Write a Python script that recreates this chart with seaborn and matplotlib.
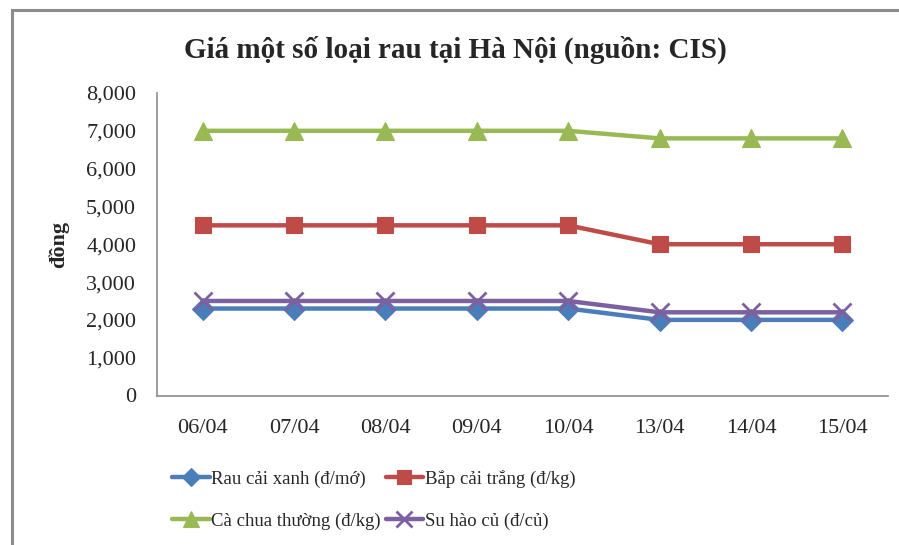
import matplotlib
matplotlib.use("Agg")
import matplotlib.pyplot as plt
from matplotlib.patches import Rectangle
import seaborn as sns
import pandas as pd

dates = ["06/04", "07/04", "08/04", "09/04", "10/04", "13/04", "14/04", "15/04"]
rau_cai_xanh = [2300, 2300, 2300, 2300, 2300, 2000, 2000, 2000]
bap_cai_trang = [4500, 4500, 4500, 4500, 4500, 4000, 4000, 4000]
ca_chua_thuong = [7000, 7000, 7000, 7000, 7000, 6800, 6800, 6800]
su_hao_cu = [2500, 2500, 2500, 2500, 2500, 2200, 2200, 2200]

series_names = ["Rau cải xanh (đ/mớ)", "Bắp cải trắng (đ/kg)",
                "Cà chua thường (đ/kg)", "Su hào củ (đ/củ)"]
series_values = [rau_cai_xanh, bap_cai_trang, ca_chua_thuong, su_hao_cu]
colors = ["#4A7EBB", "#BE4B48", "#98B954", "#7D60A0"]
markers = ["D", "s", "^", "x"]
msizes = [11, 12, 13, 13]

sns.set_theme(style="white")
plt.rcParams["font.family"] = ["Liberation Serif", "DejaVu Serif"]

fig = plt.figure(figsize=(8.99, 5.45), dpi=100)
ax = fig.add_axes([157 / 899, (545 - 395.5) / 545, 731 / 899, 302.5 / 545])

rows = []
for name, vals in zip(series_names, series_values):
    for i, (d, v) in enumerate(zip(dates, vals)):
        rows.append({"pos": i, "ngay": d, "gia": v, "loai": name})
df = pd.DataFrame(rows)

handles = {}
for name, col, mk, ms in zip(series_names, colors, markers, msizes):
    sub = df[df["loai"] == name]
    sns.lineplot(data=sub, x="pos", y="gia", ax=ax, color=col, linewidth=3.2,
                 marker=mk, markersize=ms, markeredgecolor=col,
                 markeredgewidth=2.0 if mk == "x" else 0.8,
                 sort=False, label=name, legend=False)
    handles[name] = ax.get_lines()[-1]

ax.set_xlim(-0.5, len(dates) - 0.5)
ax.set_ylim(0, 8000)
ax.set_yticks(range(0, 8001, 1000))
ax.set_yticklabels([f"{t:,}" for t in range(0, 8001, 1000)], fontsize=16)
ax.set_xticks(range(len(dates)))
ax.set_xticklabels(dates, fontsize=16)
ax.tick_params(axis="both", length=0)
ax.tick_params(axis="x", pad=17)
ax.tick_params(axis="y", pad=15)
ax.set_xlabel("")
ax.set_ylabel("đồng", fontsize=16, fontweight="bold", labelpad=12)
for s in ["top", "right"]:
    ax.spines[s].set_visible(False)
for s in ["left", "bottom"]:
    ax.spines[s].set_color("#8C8C8C")
    ax.spines[s].set_linewidth(1.2)

fig.text(0.506, 0.908, "Giá một số loại rau tại Hà Nội (nguồn: CIS)",
         ha="center", va="center", fontsize=21, fontweight="bold")

order = [series_names[0], series_names[2], series_names[1], series_names[3]]
fig.legend([handles[n] for n in order], order, ncol=2, frameon=False,
           loc="upper left", bbox_to_anchor=(172 / 899, 1 - 470 / 545),
           fontsize=13.5, handlelength=2.0, handletextpad=0.1, markerscale=0.85,
           columnspacing=0.25, labelspacing=1.3, borderaxespad=0, borderpad=0)

fig.patches.append(Rectangle((11.5 / 899, -0.2), 1.3, 1.2 - 9.5 / 545,
                             transform=fig.transFigure, fill=False,
                             edgecolor="#8C8C8C", linewidth=2.2))

fig.savefig("out.png", dpi=100)
